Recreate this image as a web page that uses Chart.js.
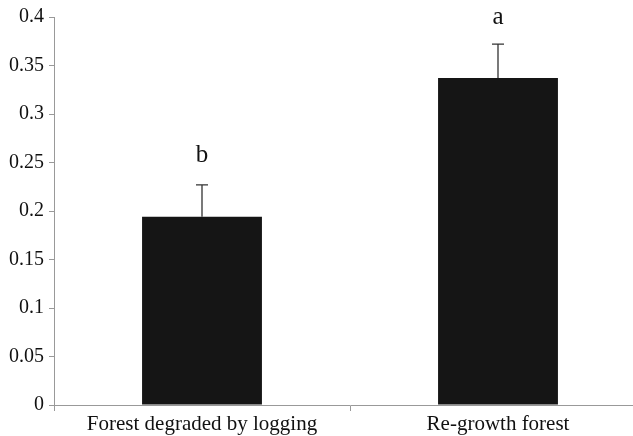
<!DOCTYPE html>
<html>
<head>
<meta charset="utf-8">
<script src="https://cdn.jsdelivr.net/npm/chart.js@4.4.0/dist/chart.umd.min.js"></script>
<style>
  html, body { margin: 0; padding: 0; background: #fff; overflow: hidden; }
</style>
</head>
<body>
<canvas id="graphBars" width="650" height="436"></canvas>
<script>
// Données
const categories = ['Forest degraded by logging', 'Re-growth forest'];
const moyennes = [0.194, 0.337];
const erreurs = [0.033, 0.035];
const lettres = ['b', 'a'];
const yTicks = [0, 0.05, 0.1, 0.15, 0.2, 0.25, 0.3, 0.35, 0.4];

const police = '"Liberation Serif", "Times New Roman", serif';

// Barres d'erreur (vers le haut) + lettres de significativité
const errorBars = {
    id: 'errorBars',
    afterDatasetsDraw(chart) {
        const ctx = chart.ctx;
        const x = chart.scales.x;
        const y = chart.scales.y;
        ctx.save();
        moyennes.forEach((m, i) => {
            const px = x.getPixelForValue(i);
            const yBas = y.getPixelForValue(m);
            const yHaut = y.getPixelForValue(m + erreurs[i]);
            ctx.strokeStyle = '#333';
            ctx.lineWidth = 1.3;
            ctx.beginPath();
            ctx.moveTo(px, yBas);
            ctx.lineTo(px, yHaut);
            ctx.moveTo(px - 6, yHaut);
            ctx.lineTo(px + 6, yHaut);
            ctx.stroke();
            ctx.fillStyle = '#111';
            ctx.font = '25px ' + police;
            ctx.textAlign = 'center';
            ctx.textBaseline = 'alphabetic';
            ctx.fillText(lettres[i], px, yHaut - (i === 0 ? 23 : 20));
        });
        ctx.restore();
    }
};

function graph() {
    const ctx = document.getElementById('graphBars').getContext('2d');
    new Chart(ctx, {
        type: 'bar',
        data: {
            labels: categories,
            datasets: [{
                data: moyennes,
                backgroundColor: '#151515',
                borderWidth: 0,
                categoryPercentage: 1,
                barPercentage: 0.405
            }]
        },
        options: {
            responsive: false,
            animation: false,
            layout: { padding: { top: 16, right: 4, left: 0, bottom: 0 } },
            plugins: {
                legend: { display: false },
                tooltip: { enabled: false }
            },
            scales: {
                x: {
                    afterFit(axis) { axis.height = 31; },
                    grid: { drawOnChartArea: false, drawTicks: true, tickLength: 6, color: '#999' },
                    border: { color: '#999' },
                    ticks: {
                        color: '#111',
                        padding: 1,
                        font: { family: police, size: 21 }
                    }
                },
                y: {
                    min: 0,
                    max: 0.4,
                    afterBuildTicks(axis) {
                        axis.ticks = yTicks.map(v => ({ value: v }));
                    },
                    afterFit(axis) { axis.width = 54; },
                    grid: { drawOnChartArea: false, drawTicks: true, tickLength: 5, color: '#999' },
                    border: { color: '#999' },
                    ticks: {
                        color: '#111',
                        padding: 5,
                        font: { family: police, size: 20 },
                        callback: v => String(v)
                    }
                }
            }
        },
        plugins: [errorBars]
    });
}

document.addEventListener('DOMContentLoaded', function() {
    graph();
});
</script>
</body>
</html>
